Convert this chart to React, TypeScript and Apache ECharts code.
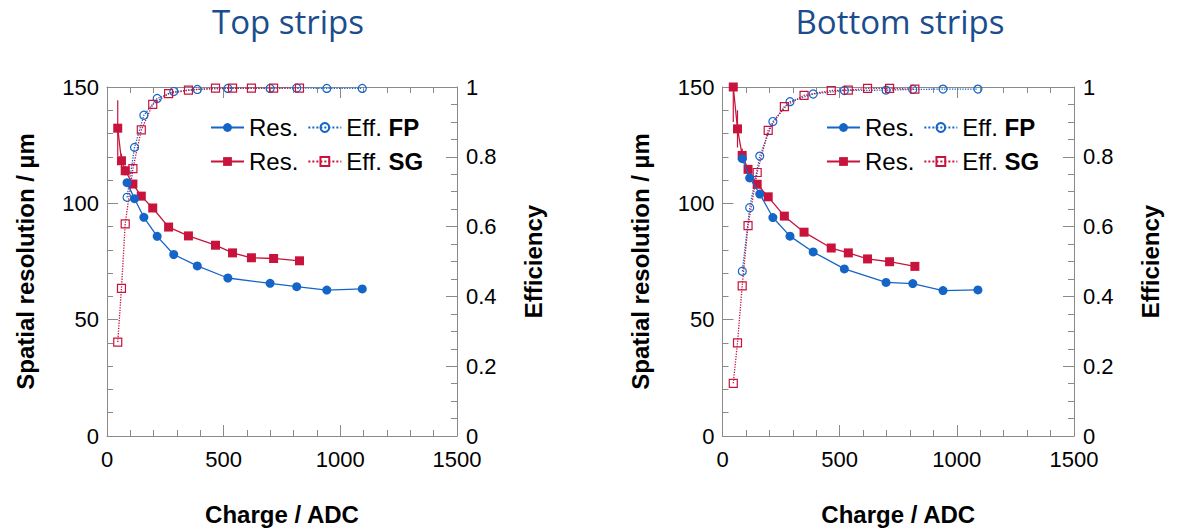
import React, { useEffect, useRef } from "react";
import * as echarts from "echarts";

// ---------------- data ----------------
// Top strips
const topResFPx = [86, 118, 158, 215, 286, 387, 518, 699, 813, 942, 1094];
const topResFPy = [108.9, 102, 94, 85.8, 78, 73.1, 67.9, 65.6, 64.2, 62.7, 63.2];
const topEffFP = [0.684, 0.827, 0.919, 0.967, 0.987, 0.993, 0.996, 0.996, 0.997, 0.996, 0.996];
const topResSGx = [46, 62, 78, 111, 147, 196, 264, 349, 465, 538, 619, 714, 825];
const topResSGy = [132.3, 118.3, 114, 108.3, 103.1, 98, 89.8, 86, 82, 78.7, 76.6, 76.3, 75.3];
const topResSGerr = [12, 3, 2, 0, 0, 0, 0, 0, 0, 0, 0, 0, 0];
const topEffSG = [0.269, 0.423, 0.608, 0.766, 0.877, 0.95, 0.981, 0.991, 0.997, 0.997, 0.997, 0.997, 0.997];

// Bottom strips
const botResFPx = [84.5, 116, 159, 215, 288, 387, 520, 698, 812, 941, 1090];
const botResFPy = [119.2, 110.9, 104, 93.9, 85.9, 79.1, 71.8, 66, 65.5, 62.5, 62.8];
const botEffFP = [0.472, 0.654, 0.802, 0.901, 0.958, 0.98, 0.99, 0.991, 0.993, 0.994, 0.994];
const botResSGx = [46, 64, 84, 109, 148, 195, 264, 348, 464, 537, 619, 713, 821];
const botResSGy = [150, 132, 120.6, 114.6, 108.2, 102.8, 94.5, 87.6, 80.8, 78.7, 76.1, 74.9, 72.9];
const botResSGerr = [15, 8, 3, 0, 0, 0, 0, 0, 0, 0, 0, 0, 0];
const botEffSG = [0.151, 0.267, 0.43, 0.603, 0.755, 0.876, 0.944, 0.976, 0.99, 0.991, 0.996, 0.996, 0.994];

const panelTitles = ["Top strips", "Bottom strips"];
const xTicks = [0, 500, 1000, 1500];
const resTicks = [0, 50, 100, 150];
const effTicks = [0, 0.2, 0.4, 0.6, 0.8, 1];

// ---------------- styles ----------------
const BLUE = "#1565c8";
const RED = "#c8143c";
const AXIS = "#8a8a8a";
const FONT = "'Liberation Sans', Arial, Helvetica, sans-serif";
const TITLE_COLOR = "#1b4d8e";

const zip = (a: number[], b: number[]) => a.map((v, i) => [v, b[i]]);

const legendNames: Record<string, string> = {};

function panelSeries(p: number, rfx: number[], rfy: number[], ef: number[], rsx: number[], rsy: number[], rse: number[], es: number[]) {
  const xi = p * 2;
  const yl = p * 2;
  const yr = p * 2 + 1;
  const tag = p === 0 ? "top" : "bot";
  legendNames[tag + "ResFP"] = "Res.";
  legendNames[tag + "EffFP"] = "Eff. {b|FP}";
  legendNames[tag + "ResSG"] = "Res.";
  legendNames[tag + "EffSG"] = "Eff. {b|SG}";
  return [
    {
      type: "line",
      name: tag + "EffFP",
      xAxisIndex: xi,
      yAxisIndex: yr,
      data: zip(rfx, ef),
      symbol: "circle",
      symbolSize: 8,
      itemStyle: { color: "rgba(255,255,255,0)", borderColor: BLUE, borderWidth: 1.2 },
      lineStyle: { color: BLUE, width: 1.3, type: "dotted" },
      z: 2,
    },
    {
      type: "line",
      name: tag + "EffSG",
      xAxisIndex: xi,
      yAxisIndex: yr,
      data: zip(rsx, es),
      symbol: "rect",
      symbolSize: 8,
      itemStyle: { color: "rgba(255,255,255,0)", borderColor: RED, borderWidth: 1.2 },
      lineStyle: { color: RED, width: 1.3, type: "dotted" },
      z: 2,
    },
    {
      type: "custom",
      name: tag + "ErrSG",
      xAxisIndex: xi,
      yAxisIndex: yl,
      clip: true,
      data: rsx.map((x, i) => [x, rsy[i], rse[i]]).filter((d) => d[2] > 0),
      renderItem: (params: any, api: any) => {
        const x = api.value(0);
        const y = api.value(1);
        const e = api.value(2);
        const a = api.coord([x, Math.min(150, y + e)]);
        const b = api.coord([x, y - e]);
        return {
          type: "line",
          shape: { x1: a[0], y1: a[1], x2: b[0], y2: b[1] },
          style: { stroke: RED, lineWidth: 1.2 },
        };
      },
      z: 3,
    },
    {
      type: "line",
      name: tag + "ResSG",
      xAxisIndex: xi,
      yAxisIndex: yl,
      data: zip(rsx, rsy),
      symbol: "rect",
      symbolSize: 9,
      itemStyle: { color: RED },
      lineStyle: { color: RED, width: 1.3 },
      z: 3,
    },
    {
      type: "line",
      name: tag + "ResFP",
      xAxisIndex: xi,
      yAxisIndex: yl,
      data: zip(rfx, rfy),
      symbol: "circle",
      symbolSize: 9,
      itemStyle: { color: BLUE },
      lineStyle: { color: BLUE, width: 1.3 },
      z: 4,
    },
  ];
}

const grids = [
  { left: 107, top: 87, width: 350, height: 352 },
  { left: 722.5, top: 87, width: 351.5, height: 352 },
];

function xAxes(p: number) {
  const base = {
    type: "value",
    gridIndex: p,
    min: xTicks[0],
    max: xTicks[xTicks.length - 1],
    interval: 500,
    splitLine: { show: false },
    axisLine: { show: true, onZero: false, lineStyle: { color: AXIS, width: 1 } },
    axisTick: { show: true, inside: true, length: 11, lineStyle: { color: AXIS } },
    minorTick: { show: true, splitNumber: 5, length: 6, lineStyle: { color: AXIS } },
  };
  return [
    {
      ...base,
      position: "bottom",
      name: "Charge / ADC",
      nameLocation: "middle",
      nameGap: 66,
      nameTextStyle: { fontFamily: FONT, fontSize: 24, fontWeight: "bold", color: "#000" },
      axisLabel: {
        fontFamily: FONT,
        fontSize: 22,
        color: "#000",
        margin: 12,
        formatter: (v: number) => String(v),
      },
    },
    {
      ...base,
      position: "top",
      axisLabel: { show: false },
    },
  ];
}

function yAxes(p: number) {
  return [
    {
      type: "value",
      gridIndex: p,
      position: "left",
      min: 0,
      max: resTicks[resTicks.length - 1],
      interval: 50,
      name: "Spatial resolution / µm",
      nameLocation: "middle",
      nameGap: 70,
      nameTextStyle: { fontFamily: FONT, fontSize: 24, fontWeight: "bold", color: "#000" },
      splitLine: { show: false },
      axisLine: { show: true, onZero: false, lineStyle: { color: AXIS, width: 1 } },
      axisTick: { show: true, inside: true, length: 11, lineStyle: { color: AXIS } },
      minorTick: { show: true, splitNumber: 5, length: 6, lineStyle: { color: AXIS } },
      axisLabel: { fontFamily: FONT, fontSize: 22, color: "#000", margin: 8 },
    },
    {
      type: "value",
      gridIndex: p,
      position: "right",
      min: 0,
      max: effTicks[effTicks.length - 1],
      interval: 0.2,
      name: "Efficiency",
      nameLocation: "middle",
      nameGap: 64,
      nameRotate: 90,
      nameTextStyle: { fontFamily: FONT, fontSize: 24, fontWeight: "bold", color: "#000" },
      splitLine: { show: false },
      axisLine: { show: true, onZero: false, lineStyle: { color: AXIS, width: 1 } },
      axisTick: { show: true, inside: true, length: 11, lineStyle: { color: AXIS } },
      minorTick: { show: true, splitNumber: 4, length: 6, lineStyle: { color: AXIS } },
      axisLabel: { fontFamily: FONT, fontSize: 22, color: "#000", margin: 9 },
    },
  ];
}

function legend(p: number, left: number) {
  const tag = p === 0 ? "top" : "bot";
  return {
    data: [tag + "ResFP", tag + "EffFP", tag + "ResSG", tag + "EffSG"],
    left,
    top: 115,
    width: 225,
    padding: 0,
    itemGap: 9,
    itemWidth: 33,
    itemHeight: 11,
    selectedMode: false,
    formatter: (name: string) => legendNames[name],
    textStyle: {
      fontFamily: FONT,
      fontSize: 24,
      color: "#000",
      lineHeight: 25,
      rich: {
        b: { fontFamily: FONT, fontSize: 24, fontWeight: "bold", color: "#000", lineHeight: 25 },
      },
    },
  };
}

function title(i: number, center: number) {
  return {
    text: panelTitles[i],
    left: center,
    top: 0,
    textAlign: "center",
    padding: [1, 0, 0, 0],
    textStyle: {
      fontFamily: "'Open Sans', 'Noto Sans', sans-serif",
      fontSize: 33,
      fontWeight: "normal",
      color: TITLE_COLOR,
      lineHeight: 40,
    },
  };
}

export default function App() {
  const ref = useRef<HTMLDivElement>(null);
  useEffect(() => {
    if (!ref.current) return;
    const chart = echarts.init(ref.current, null, { renderer: "svg" });
    const series = [
      ...panelSeries(0, topResFPx, topResFPy, topEffFP, topResSGx, topResSGy, topResSGerr, topEffSG),
      ...panelSeries(1, botResFPx, botResFPy, botEffFP, botResSGx, botResSGy, botResSGerr, botEffSG),
    ];
    chart.setOption({
      animation: false,
      backgroundColor: "#fff",
      title: [title(0, 288), title(1, 900)],
      grid: grids,
      xAxis: [...xAxes(0), ...xAxes(1)],
      yAxis: [...yAxes(0), ...yAxes(1)],
      legend: [legend(0, 210), legend(1, 826)],
      series,
    });
    return () => chart.dispose();
  }, []);
  return (
    <div
      ref={ref}
      style={{ position: "fixed", left: 0, top: 0, width: 1178, height: 531, background: "#fff" }}
    />
  );
}
